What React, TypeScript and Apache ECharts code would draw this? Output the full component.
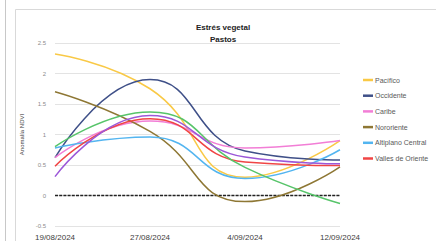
import React, { useEffect, useRef } from "react";
import * as echarts from "echarts";

const categories = ["19/08/2024", "27/08/2024", "4/09/2024", "12/09/2024"];
const pacifico = [2.32, 1.75, 0.3, 0.9];
const occidente = [0.62, 1.9, 0.73, 0.58];
const caribe = [0.62, 1.22, 0.78, 0.9];
const nororiente = [1.7, 1.05, -0.1, 0.47];
const altiplano = [0.78, 0.96, 0.28, 0.75];
const valles = [0.48, 1.26, 0.55, 0.49];
const verde = [0.8, 1.37, 0.46, -0.13];
const morado = [0.31, 1.31, 0.63, 0.52];
const cero = [0, 0, 0, 0];
const yTicks = [-0.5, 0, 0.5, 1, 1.5, 2, 2.5];

export default function App() {
  const ref = useRef<HTMLDivElement>(null);
  useEffect(() => {
    const chart = echarts.init(ref.current!, null, { renderer: "svg" });
    const mk = (name: string, data: number[], color: string, extra: any = {}) => ({
      name,
      type: "line",
      data,
      smooth: 0.5,
      symbol: "none",
      lineStyle: { color, width: 1.5, ...(extra.lineStyle || {}) },
      itemStyle: { color },
      z: extra.z || 2,
    });
    chart.setOption({
      animation: false,
      backgroundColor: "#fff",
      textStyle: { fontFamily: "Liberation Sans" },
      title: {
        text: "Estrés vegetal\nPastos",
        left: 218,
        textAlign: "center",
        top: 16,
        textStyle: { fontSize: 8, fontWeight: "bold", color: "#222", lineHeight: 12 },
      },
      graphic: [
        { type: "line", shape: { x1: 5.5, y1: 0, x2: 5.5, y2: 241 }, style: { stroke: "#c8c8c8", lineWidth: 1 } },
        { type: "rect", shape: { x: 15.5, y: 9.5, width: 440, height: 260 }, style: { fill: "none", stroke: "#d9d9d9", lineWidth: 1 } },
      ],
      legend: {
        orient: "vertical",
        left: 358,
        top: 71,
        icon: "rect",
        itemWidth: 10,
        itemHeight: 2.5,
        itemGap: 7.7,
        textStyle: { fontSize: 7, color: "#595959", lineHeight: 8, padding: [0, 0, 0, -3] },
        data: ["Pacífico", "Occidente", "Caribe", "Nororiente", "Altiplano Central", "Valles de Oriente"],
      },
      grid: { left: 55, right: 96, top: 43, bottom: 15 },
      xAxis: {
        type: "category",
        data: categories,
        boundaryGap: false,
        axisLine: { show: false },
        axisTick: { show: false },
        axisLabel: { fontSize: 8, color: "#404040", margin: 7, showMinLabel: true, showMaxLabel: true, interval: 0 },
      },
      yAxis: {
        type: "value",
        min: -0.5,
        max: 2.5,
        interval: 0.5,
        name: "Anomalía NDVI",
        nameLocation: "middle",
        nameGap: 28,
        nameTextStyle: { fontSize: 6, color: "#404040" },
        axisLabel: {
          fontSize: 6,
          color: "#8c8c8c",
          margin: 9,
          formatter: (v: number) => (yTicks.includes(v) ? String(v) : ""),
        },
        splitLine: { lineStyle: { color: "#e3e3e3", width: 1 } },
        axisLine: { show: false },
        axisTick: { show: false },
      },
      series: [
        mk("Pacífico", pacifico, "#F9C946"),
        mk("Occidente", occidente, "#3F5088"),
        mk("Caribe", caribe, "#F27ED6"),
        mk("Nororiente", nororiente, "#8E7734"),
        mk("Altiplano Central", altiplano, "#53B5F0"),
        mk("Valles de Oriente", valles, "#F04545"),
        mk("Norte", verde, "#57C46A"),
        mk("Sur", morado, "#9C58D8"),
        {
          name: "Cero",
          type: "line",
          data: cero,
          symbol: "none",
          lineStyle: { color: "#222", width: 1.5, type: [3, 1.2] },
          z: 1,
        },
      ],
    });
    return () => chart.dispose();
  }, []);
  return <div ref={ref} style={{ width: 436, height: 241, position: "absolute", left: 0, top: 0 }} />;
}
